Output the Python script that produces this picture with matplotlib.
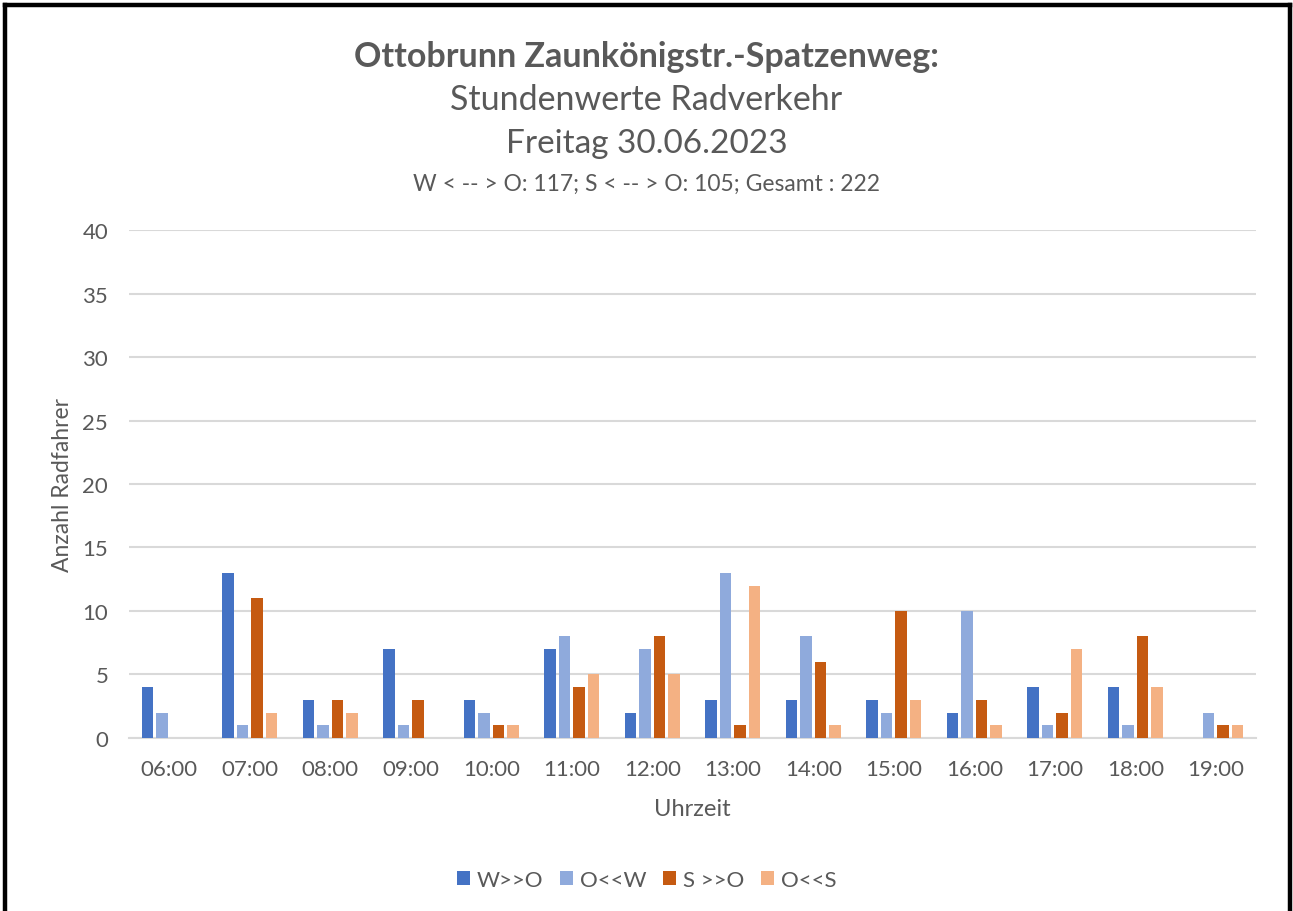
import numpy as np
import matplotlib
matplotlib.use('Agg')
import matplotlib.pyplot as plt
from matplotlib.lines import Line2D

plt.rcParams['font.family'] = ['Lato', 'DejaVu Sans']

# Daten
stunden = ['06:00', '07:00', '08:00', '09:00', '10:00', '11:00', '12:00',
           '13:00', '14:00', '15:00', '16:00', '17:00', '18:00', '19:00']
w_o = [4, 13, 3, 7, 3, 7, 2, 3, 3, 3, 2, 4, 4, 0]
o_w = [2, 1, 1, 1, 2, 8, 7, 13, 8, 2, 10, 1, 1, 2]
s_o = [0, 11, 3, 3, 1, 4, 8, 1, 6, 10, 3, 2, 8, 1]
o_s = [0, 2, 2, 0, 1, 5, 5, 12, 1, 3, 1, 7, 4, 1]
namen = ['W>>O', 'O<<W', 'S >>O', 'O<<S']
farben = ['#4472C4', '#8FAADC', '#C55A11', '#F4B183']

grau = '#595959'

fig = plt.figure(figsize=(12.93, 9.12), dpi=100)
ax = fig.add_axes([0.0998, 0.1897, 0.8716, 0.557])

x = np.arange(len(stunden))
schritt = 0.18
breite = 0.14
for i, (werte, name, farbe) in enumerate(zip([w_o, o_w, s_o, o_s], namen, farben)):
	ax.bar(x + (i - 1.5) * schritt, werte, breite, color=farbe, label=name, zorder=3)

ax.set_xlim(-0.5, len(stunden) - 0.5)
ax.set_ylim(0, 40)
ax.set_yticks(range(0, 41, 5))
ax.set_xticks(x)
ax.set_xticklabels(stunden)
ax.yaxis.grid(True, color='#D9D9D9', linewidth=1.5, zorder=0)
for s in ['top', 'right', 'left']:
	ax.spines[s].set_visible(False)
ax.spines['bottom'].set_color('#D9D9D9')
ax.spines['bottom'].set_linewidth(1.5)
ax.tick_params(length=0, labelsize=16, colors=grau)
ax.tick_params(axis='x', pad=15)
ax.tick_params(axis='y', pad=15)
ax.set_xlabel('Uhrzeit', fontsize=17, color=grau, labelpad=14)
ax.set_ylabel('Anzahl Radfahrer', fontsize=16.5, color=grau, labelpad=7)

# Titel
fig.text(0.5, 0.937, 'Ottobrunn Zaunkönigstr.-Spatzenweg:', ha='center', va='center',
	fontsize=24.5, fontweight='bold', color=grau)
fig.text(0.5, 0.890, 'Stundenwerte Radverkehr', ha='center', va='center',
	fontsize=24.5, color=grau)
fig.text(0.5, 0.842, 'Freitag 30.06.2023', ha='center', va='center',
	fontsize=24, color=grau)
fig.text(0.5, 0.798, 'W < -- > O: 117; S < -- > O: 105; Gesamt : 222', ha='center',
	va='center', fontsize=16.5, color=grau)

fig.legend(loc='center', bbox_to_anchor=(0.5, 0.034), ncol=4, frameon=False,
	fontsize=16, labelcolor=grau, handlelength=0.6, handleheight=0.6,
	handletextpad=0.3, columnspacing=0.75)

# Rahmen
for xs, ys in [((0.004, 0.004), (0, 0.993)), ((0.004, 0.9975), (0.993, 0.993)),
		((0.9975, 0.9975), (0, 0.993))]:
	fig.add_artist(Line2D(xs, ys, color='black', linewidth=3.2, transform=fig.transFigure))

fig.savefig('out.png', dpi=100)
